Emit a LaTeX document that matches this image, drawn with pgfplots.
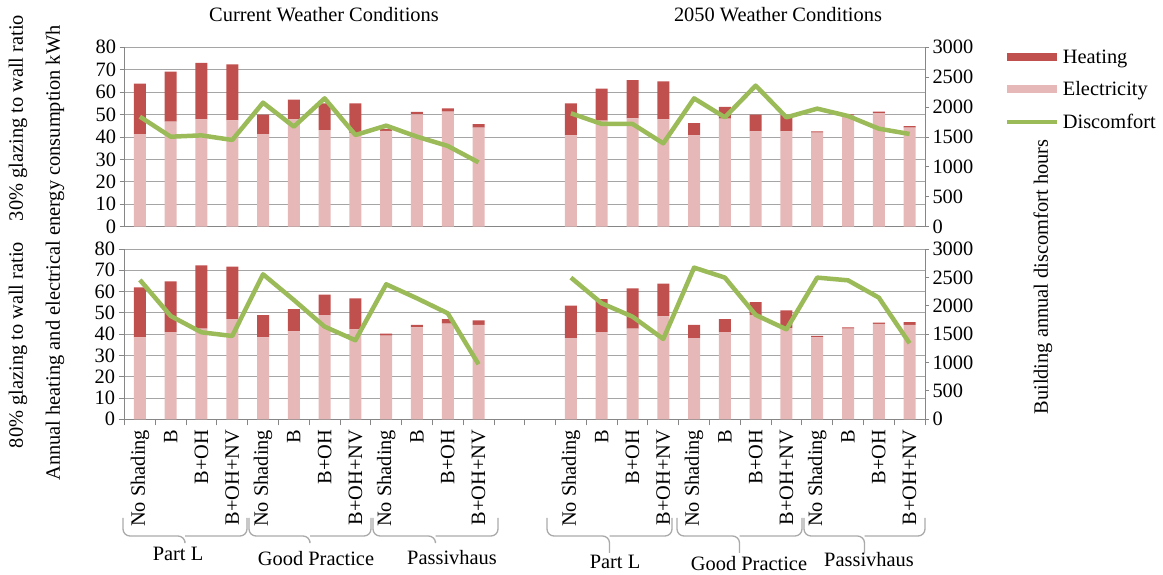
\documentclass[border=0pt]{standalone}
\usepackage{fontspec}
\setmainfont{Liberation Serif}
\newfontfamily\tnr{Liberation Serif}
\usepackage{pgfplots}
\pgfplotsset{compat=1.18}
\usepackage{pgfplotstable}
\definecolor{heatC}{RGB}{192,80,77}
\definecolor{elecC}{RGB}{230,185,184}
\definecolor{discC}{RGB}{155,187,89}
\definecolor{gridC}{RGB}{165,165,165}
\definecolor{axisC}{RGB}{134,134,134}
\definecolor{braceC}{RGB}{170,170,170}
\newcommand\fs{\tnr\fontsize{20.4}{24}\selectfont}

\pgfplotstableread{
x  elec heat disc
0  41.3 22.5 1840
1  46.8 22.3 1505
2  47.9 25.1 1527
3  47.4 25.0 1450
4  41.3 8.7  2074
5  47.9 8.8  1673
6  43.1 11.9 2146
7  41.6 13.4 1533
8  42.7 0.9  1690
9  50.1 1.1  1505
10 51.3 1.5  1350
11 44.2 1.5  1076
14 40.7 14.3 1896
15 47.3 14.3 1718
16 48.3 17.1 1718
17 47.9 16.9 1394
18 40.7 5.5  2146
19 48.2 5.2  1829
20 42.5 7.5  2359
21 42.5 7.2  1829
22 41.9 0.6  1974
23 49.7 0.4  1851
24 50.7 0.6  1639
25 44.2 0.6  1550
}\topT

\pgfplotstableread{
x  elec heat disc
0  38.5 23.5 2455
1  40.9 23.9 1820
2  42.6 29.7 1532
3  47.1 24.6 1468
4  38.5 10.4 2554
5  41.3 10.4 2102
6  48.9 9.7  1632
7  42.4 14.4 1392
8  39.3 0.9  2378
9  43.2 1.1  2131
10 44.9 2.2  1867
11 44.3 2.2  969
14 38.1 15.3 2496
15 40.9 15.5 2043
16 42.6 18.9 1808
17 48.4 15.3 1415
18 38.1 6.2  2672
19 40.9 6.2  2496
20 49.0 6.1  1838
21 42.8 8.4  1585
22 38.5 0.7  2496
23 42.6 0.6  2448
24 44.8 0.6  2143
25 44.3 1.3  1339
}\botT

\pgfplotsset{
  panel/.style={scale only axis, width=800.5pt, xmin=-0.5, xmax=25.5,
    ymin=0, ymax=80, ytick={0,10,...,80}, ymajorgrids,
    grid style={gridC, line width=0.9pt},
    axis x line*=bottom, axis y line*=left,
    axis line style={axisC, line width=0.9pt, -},
    tick style={axisC, line width=0.9pt},
    tick align=outside, major tick length=5pt,
    tick label style={font=\fs, text=black},
    /pgf/number format/assume math mode=true,
    /pgf/number format/1000 sep={},
    ybar stacked, bar width=12pt, clip=false},
  sec/.style={scale only axis, width=800.5pt, xmin=-0.5, xmax=25.5,
    ymin=0, ymax=3000, ytick={0,500,...,3000},
    axis y line*=right, axis x line=none,
    axis line style={axisC, line width=0.9pt, -},
    tick style={axisC, line width=0.9pt},
    tick align=outside, major tick length=4pt,
    tick label style={font=\fs, text=black},
    /pgf/number format/assume math mode=true,
    /pgf/number format/1000 sep={}},
  discline/.style={discC, line width=4.5pt, line join=round, no markers, sharp plot},
}

\begin{document}
\begin{tikzpicture}
\useasboundingbox (0pt,0pt) rectangle (1163pt,575pt);

% ---------- top panel (30%) ----------
\begin{axis}[panel, at={(124.5pt,348.3pt)}, anchor=south west, height=179.4pt,
  xtick=\empty,
  legend cell align=left,
  legend style={at={(1.097,1.0)}, anchor=north west, draw=none, fill=none,
    font=\fs, row sep=13pt, inner sep=0pt,
    /tikz/every even column/.append style={column sep=0pt}}]
\addplot[fill=elecC, draw=none, forget plot] table[x=x, y=elec] {\topT};
\addplot[fill=heatC, draw=none, forget plot] table[x=x, y=heat] {\topT};
\addlegendimage{legend image code/.code={\draw[heatC, line width=8pt] (0pt,0pt) -- (50pt,0pt);}}
\addlegendentry{Heating}
\addlegendimage{legend image code/.code={\draw[elecC, line width=8pt] (0pt,0pt) -- (50pt,0pt);}}
\addlegendentry{Electricity}
\addlegendimage{legend image code/.code={\draw[discC, line width=4.5pt] (0pt,0pt) -- (50pt,0pt);}}
\addlegendentry{Discomfort}
\end{axis}
\begin{axis}[sec, at={(124.5pt,348.3pt)}, anchor=south west, height=179.4pt]
\addplot[discline, restrict x to domain=0:11] table[x=x, y=disc] {\topT};
\addplot[discline, restrict x to domain=14:25] table[x=x, y=disc] {\topT};
\end{axis}

% ---------- bottom panel (80%) ----------
\begin{axis}[panel, at={(124.5pt,155.7pt)}, anchor=south west, height=170.3pt,
  xtick={-0.5,0.5,1.5,2.5,3.5,4.5,5.5,6.5,7.5,8.5,9.5,10.5,11.5,12.5,13.5,14.5,15.5,16.5,17.5,18.5,19.5,20.5,21.5,22.5,23.5,24.5,25.5},
  xticklabels={},
  major tick length=6pt,
  extra x ticks={0,1,2,3,4,5,6,7,8,9,10,11,14,15,16,17,18,19,20,21,22,23,24,25},
  extra x tick labels={No Shading,B,B+OH,B+OH+NV,No Shading,B,B+OH,B+OH+NV,No Shading,B,B+OH,B+OH+NV,No Shading,B,B+OH,B+OH+NV,No Shading,B,B+OH,B+OH+NV,No Shading,B,B+OH,B+OH+NV},
  extra x tick style={major tick length=0pt, grid=none, xticklabel style={rotate=90, anchor=east, xshift=-7pt}}]
\addplot[fill=elecC, draw=none] table[x=x, y=elec] {\botT};
\addplot[fill=heatC, draw=none] table[x=x, y=heat] {\botT};
\end{axis}
\begin{axis}[sec, at={(124.5pt,155.7pt)}, anchor=south west, height=170.3pt]
\addplot[discline, restrict x to domain=0:11] table[x=x, y=disc] {\botT};
\addplot[discline, restrict x to domain=14:25] table[x=x, y=disc] {\botT};
\end{axis}

% ---------- titles and axis labels ----------
\node[font=\fs] at (324pt,560pt) {Current Weather Conditions};
\node[font=\fs] at (778pt,560pt) {2050 Weather Conditions};
\node[font=\fs, rotate=90] at (18pt,457pt) {30\% glazing to wall ratio};
\node[font=\fs, rotate=90] at (18pt,230pt) {80\% glazing to wall ratio};
\node[font=\fs, rotate=90] at (55pt,322pt) {Annual heating and electrical energy consumption kWh};
\node[font=\fs, rotate=90] at (1043pt,298pt) {Building annual discomfort hours};

% ---------- group braces ----------
\begin{scope}[braceC, line width=1.3pt, rounded corners=7pt]
\foreach \a/\b/\t in {123/247/34, 249/371/34, 373/498/34}{
  \pgfmathsetmacro\m{(\a+\b)/2}
  \draw (\a pt,57pt) -- (\a pt,39pt) -- (\m pt,39pt) -- (\m pt,\t pt);
  \draw (\b pt,57pt) -- (\b pt,39pt) -- (\m pt,39pt);
}
\foreach \a/\b/\t in {547/672/22, 677/802/22, 804/925/22}{
  \pgfmathsetmacro\m{(\a+\b)/2}
  \draw (\a pt,57pt) -- (\a pt,39pt) -- (\m pt,39pt) -- (\m pt,\t pt);
  \draw (\b pt,57pt) -- (\b pt,39pt) -- (\m pt,39pt);
}
\end{scope}
\node[font=\fs] at (178pt,21pt) {Part L};
\node[font=\fs] at (316pt,16pt) {Good Practice};
\node[font=\fs] at (452pt,17pt) {Passivhaus};
\node[font=\fs] at (615pt,13pt) {Part L};
\node[font=\fs] at (749pt,11pt) {Good Practice};
\node[font=\fs] at (869pt,15pt) {Passivhaus};
\end{tikzpicture}
\end{document}
